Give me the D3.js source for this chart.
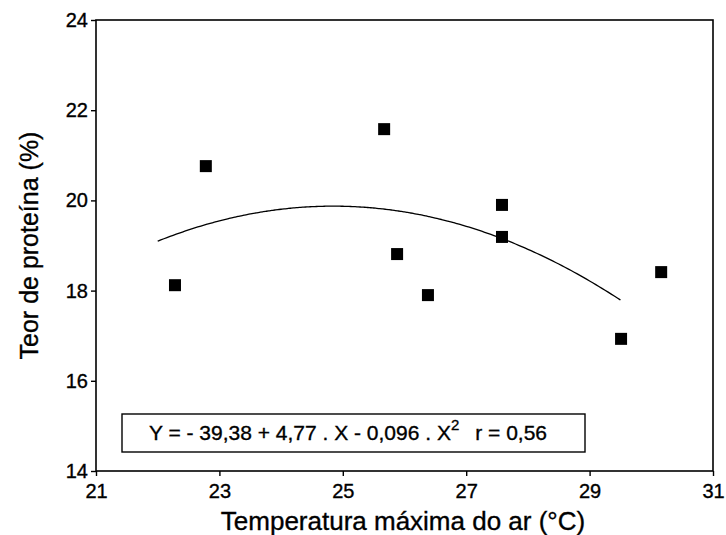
<!DOCTYPE html>
<html>
<head>
<meta charset="utf-8">
<script src="https://cdn.jsdelivr.net/npm/d3@7.9.0/dist/d3.min.js"></script>
<style>
  body { margin: 0; background: #fff; }
  svg { display: block; font-family: "Liberation Sans", Arial, Helvetica, sans-serif; }
  text { stroke: #000; stroke-width: 0.35px; fill: #000; }
</style>
</head>
<body>
<svg id="chart" width="726" height="535"></svg>
<script>
// observed points (max air temperature °C, protein %)
const tempMax = [22.28, 22.78, 25.67, 25.88, 26.38, 27.58, 27.58, 29.51, 30.16];
const protein = [18.12, 20.76, 21.58, 18.81, 17.90, 19.90, 19.19, 16.93, 18.41];

// fitted quadratic shown in the box: Y = a + b.X + c.X^2
const coef = [-39.38, 4.77, -0.096];
const fitRange = [22.0, 29.5];

const xTicks = [21, 23, 25, 27, 29, 31];
const yTicks = [14, 16, 18, 20, 22, 24];

const svg = d3.select("#chart");
const m = { left: 96, right: 13, top: 20, bottom: 64 };
const W = 726, H = 535;

const x = d3.scaleLinear().domain([21, 31]).range([m.left, W - m.right]);
const y = d3.scaleLinear().domain([14, 24]).range([H - m.bottom, m.top]);

// frame
svg.append("rect")
  .attr("x", x(21)).attr("y", y(24))
  .attr("width", x(31) - x(21)).attr("height", y(14) - y(24))
  .attr("fill", "none").attr("stroke", "#000").attr("stroke-width", 1.6);

// axes
const xAxis = svg.append("g")
  .attr("transform", `translate(0,${y(14)})`)
  .call(d3.axisBottom(x).tickValues(xTicks).tickSize(5).tickPadding(8));
const yAxis = svg.append("g")
  .attr("transform", `translate(${x(21)},0)`)
  .call(d3.axisLeft(y).tickValues(yTicks).tickSize(5).tickPadding(3));

[xAxis, yAxis].forEach(g => {
  g.select(".domain").remove();
  g.selectAll("line").attr("stroke", "#000").attr("stroke-width", 1.4);
  g.selectAll("text").attr("font-size", 20).attr("fill", "#000")
    .attr("font-family", "'Liberation Sans', Arial, sans-serif");
});

// fitted curve
const fitX = d3.range(fitRange[0], fitRange[1] + 0.001, 0.05);
const line = d3.line()
  .x(d => x(d))
  .y(d => y(coef[0] + coef[1] * d + coef[2] * d * d))
  .curve(d3.curveMonotoneX);
svg.append("path")
  .attr("d", line(fitX))
  .attr("fill", "none").attr("stroke", "#000").attr("stroke-width", 1.3);

// points
const sq = 12;
svg.append("g").selectAll("rect")
  .data(tempMax.map((t, i) => [t, protein[i]]))
  .join("rect")
  .attr("x", d => x(d[0]) - sq / 2)
  .attr("y", d => y(d[1]) - sq / 2)
  .attr("width", sq).attr("height", sq)
  .attr("fill", "#000");

// equation box
svg.append("rect")
  .attr("x", 122).attr("y", 414).attr("width", 463).attr("height", 38)
  .attr("fill", "#fff").attr("stroke", "#000").attr("stroke-width", 1.4);
const eq = svg.append("text")
  .attr("x", 348).attr("y", 440)
  .attr("text-anchor", "middle").attr("font-size", 21);
eq.append("tspan").text("Y = - 39,38 + 4,77 . X - 0,096 . X");
eq.append("tspan").attr("dy", -10).attr("font-size", 15).text("2");
eq.append("tspan").attr("dy", 10).attr("dx", 16).text("r = 0,56");

// axis titles
svg.append("text")
  .attr("x", 403).attr("y", 530)
  .attr("text-anchor", "middle").attr("font-size", 26)
  .text("Temperatura máxima do ar (°C)");
svg.append("text")
  .attr("transform", `translate(38,${(y(14) + y(24)) / 2}) rotate(-90)`)
  .attr("text-anchor", "middle").attr("font-size", 25)
  .text("Teor de proteína (%)");
</script>
</body>
</html>
